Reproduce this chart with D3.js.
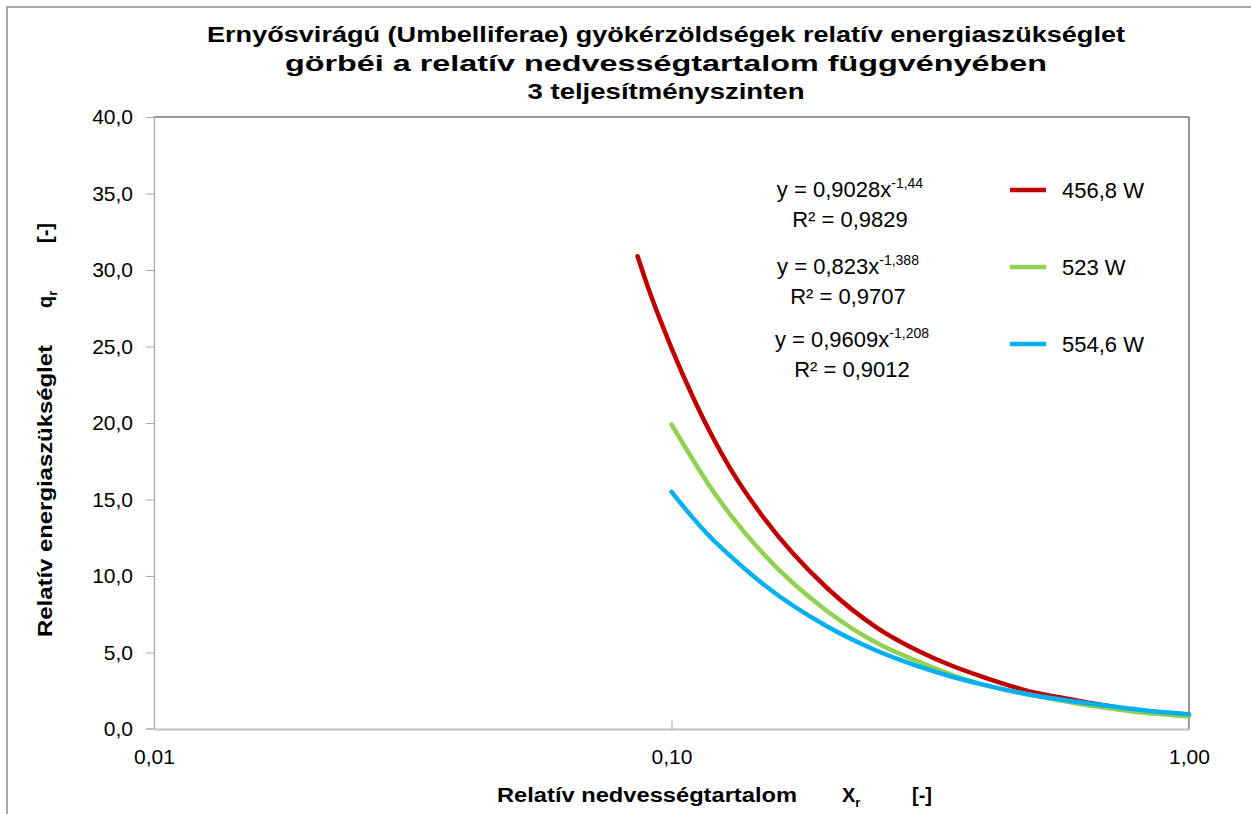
<!DOCTYPE html>
<html>
<head>
<meta charset="utf-8">
<script src="https://cdn.jsdelivr.net/npm/d3@7"></script>
<style>
  body { margin: 0; background: #fff; }
  text { font-family: "Liberation Sans", Arial, sans-serif; fill: #000; }
  .tick text { font-size: 21px; }
</style>
</head>
<body>
<svg id="chart"></svg>
<script>
// relative moisture content (x), per series
const xRed   = [0.086, 0.09, 0.10, 0.11, 0.12, 0.13, 0.15, 0.20, 0.25, 0.30, 0.35, 0.40, 0.50, 0.60, 0.70, 0.80, 0.90, 1.00];
const yRed   = [30.9, 28.9, 24.9, 21.7, 19.1, 17.0, 13.9, 9.2, 6.6, 5.1, 4.1, 3.4, 2.4, 1.9, 1.5, 1.2, 1.05, 0.9];
const xGreen = [0.10, 0.11, 0.12, 0.13, 0.15, 0.20, 0.25, 0.30, 0.35, 0.40, 0.50, 0.60, 0.70, 0.80, 0.90, 1.00];
const yGreen = [19.9, 17.6, 15.6, 14.0, 11.5, 7.7, 5.6, 4.4, 3.5, 2.9, 2.2, 1.7, 1.35, 1.1, 0.95, 0.82];
const xBlue  = [0.10, 0.11, 0.12, 0.13, 0.15, 0.20, 0.25, 0.30, 0.35, 0.40, 0.50, 0.60, 0.70, 0.80, 0.90, 1.00];
const yBlue  = [15.5, 13.8, 12.4, 11.3, 9.5, 6.7, 5.1, 4.1, 3.4, 2.9, 2.2, 1.8, 1.5, 1.26, 1.09, 0.96];

const seriesNames = ["456,8 W", "523 W", "554,6 W"];
const seriesColors = ["#c00000", "#92d050", "#00b0f0"];
const equations = ["0,9028", "0,823", "0,9609"];
const exponents = ["-1,44", "-1,388", "-1,208"];
const rSquared = ["0,9829", "0,9707", "0,9012"];

const xTicks = [0.01, 0.1, 1];
const yTicks = [0, 5, 10, 15, 20, 25, 30, 35, 40];
const titleLines = [
  "Ernyősvirágú (Umbelliferae) gyökérzöldségek relatív energiaszükséglet",
  "görbéi a relatív nedvességtartalom függvényében",
  "3 teljesítményszinten"
];

const width = 1251, height = 814;
const margin = { top: 117, right: 62, bottom: 85, left: 154 };
const innerW = width - margin.left - margin.right;
const innerH = height - margin.top - margin.bottom;

const svg = d3.select("#chart").attr("width", width).attr("height", height);

// outer chart frame (runs past the picture on the right/bottom)
svg.append("rect")
  .attr("x", 7).attr("y", 7)
  .attr("width", width + 20).attr("height", height + 20)
  .attr("fill", "none")
  .attr("stroke", "#8c8c8c")
  .attr("stroke-width", 1.5);

const g = svg.append("g").attr("transform", `translate(${margin.left},${margin.top})`);

const x = d3.scaleLog().domain([0.01, 1]).range([0, innerW]);
const y = d3.scaleLinear().domain([0, 40]).range([innerH, 0]);

const fmtY = d => d3.format(".1f")(d).replace(".", ",");
const fmtX = d => d3.format(".2f")(d).replace(".", ",");

// plot area border: top / right
g.append("line").attr("x1", 0).attr("x2", innerW).attr("y1", 0).attr("y2", 0)
  .attr("stroke", "#303030").attr("stroke-width", 1.2);
g.append("line").attr("x1", innerW).attr("x2", innerW).attr("y1", 0).attr("y2", innerH)
  .attr("stroke", "#707070").attr("stroke-width", 1.5);

// y axis
const yAxisG = g.append("g")
  .call(d3.axisLeft(y).tickValues(yTicks).tickFormat(fmtY).tickSize(8).tickPadding(13).tickSizeOuter(0));
yAxisG.selectAll("line").attr("stroke", "#a6a6a6");
yAxisG.select(".domain").attr("stroke", "#a6a6a6").attr("stroke-width", 1.2);
yAxisG.selectAll("text").attr("fill", "#000");

// x axis (ticks pointing into the plot)
const xAxisG = g.append("g")
  .attr("transform", `translate(0,${innerH})`)
  .call(d3.axisBottom(x).tickValues(xTicks).tickFormat(fmtX).tickSize(0).tickPadding(20).tickSizeOuter(0));
xAxisG.select(".domain").attr("stroke", "#c0c0c0").attr("stroke-width", 2);
xAxisG.selectAll(".tick line").attr("y2", -8).attr("stroke", "#a6a6a6");
xAxisG.append("line").attr("x1", -8).attr("x2", 0).attr("stroke", "#c0c0c0").attr("stroke-width", 2);
xAxisG.selectAll("text").attr("fill", "#000");

// curves
const seriesData = [
  xRed.map((v, i) => [v, yRed[i]]),
  xGreen.map((v, i) => [v, yGreen[i]]),
  xBlue.map((v, i) => [v, yBlue[i]])
];
const line = d3.line()
  .x(d => x(d[0]))
  .y(d => y(d[1]))
  .curve(d3.curveMonotoneX);

g.selectAll(".curve")
  .data(seriesData)
  .join("path")
  .attr("class", "curve")
  .attr("fill", "none")
  .attr("stroke", (d, i) => seriesColors[i])
  .attr("stroke-width", 4.5)
  .attr("stroke-linecap", "round")
  .attr("d", line);

// trendline equations
const eqCenters = [850, 848, 852];
const eqBase = [197, 274, 347];
equations.forEach((c, i) => {
  const t = svg.append("text")
    .attr("x", eqCenters[i]).attr("y", eqBase[i])
    .attr("text-anchor", "middle").attr("font-size", 22);
  t.append("tspan").text(`y = ${c}x`);
  t.append("tspan").attr("font-size", 14).attr("dy", -9).text(exponents[i]);
  svg.append("text")
    .attr("x", eqCenters[i]).attr("y", eqBase[i] + 30)
    .attr("text-anchor", "middle").attr("font-size", 22)
    .text(`R² = ${rSquared[i]}`);
});

// legend
const legendY = [190, 267, 344];
seriesNames.forEach((name, i) => {
  svg.append("line")
    .attr("x1", 1010).attr("x2", 1046)
    .attr("y1", legendY[i]).attr("y2", legendY[i])
    .attr("stroke", seriesColors[i]).attr("stroke-width", 4.5);
  svg.append("text")
    .attr("x", 1062).attr("y", legendY[i] + 8)
    .attr("font-size", 22)
    .text(name);
});

// title
const titleBase = [42, 71, 99];
const titleLen = [918, 762, 277];
titleLines.forEach((s, i) => {
  svg.append("text")
    .attr("x", 666).attr("y", titleBase[i])
    .attr("text-anchor", "middle")
    .attr("font-size", 22).attr("font-weight", "bold")
    .attr("textLength", titleLen[i]).attr("lengthAdjust", "spacingAndGlyphs")
    .text(s);
});

// x axis title
const xt = svg.append("g").attr("font-weight", "bold").attr("font-size", 20);
xt.append("text").attr("x", 497).attr("y", 802)
  .attr("textLength", 300).attr("lengthAdjust", "spacingAndGlyphs")
  .text("Relatív nedvességtartalom");
const xs = xt.append("text").attr("x", 842).attr("y", 802);
xs.append("tspan").text("X");
xs.append("tspan").attr("font-size", 13).attr("dy", 5).text("r");
xt.append("text").attr("x", 912).attr("y", 802).text("[-]");

// y axis title
const yt = svg.append("g").attr("font-weight", "bold").attr("font-size", 20)
  .attr("transform", "translate(52,0) rotate(-90)");
yt.append("text").attr("x", -637).attr("y", 0)
  .attr("textLength", 292).attr("lengthAdjust", "spacingAndGlyphs")
  .text("Relatív energiaszükséglet");
const ys = yt.append("text").attr("x", -308).attr("y", 0);
ys.append("tspan").text("q");
ys.append("tspan").attr("font-size", 13).attr("dy", 5).text("r");
yt.append("text").attr("x", -243).attr("y", 0).text("[-]");
</script>
</body>
</html>
